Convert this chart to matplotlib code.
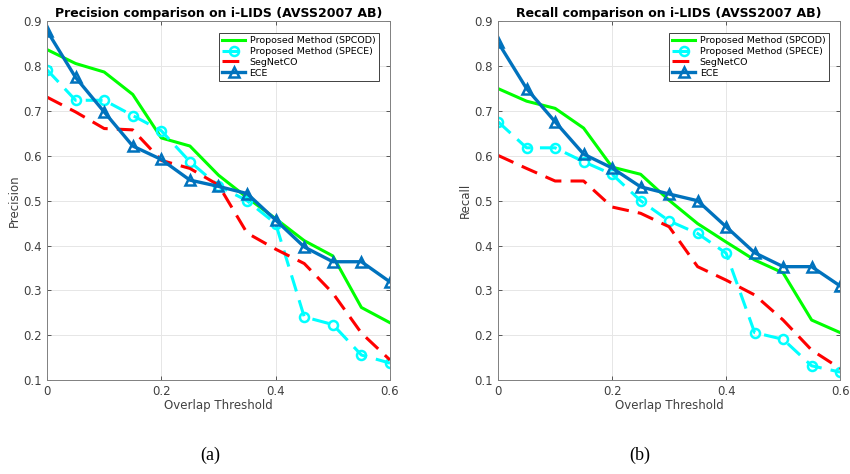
import matplotlib
matplotlib.use("Agg")
import matplotlib.pyplot as plt

# --- data ---
thresholds = [0, 0.05, 0.1, 0.15, 0.2, 0.25, 0.3, 0.35, 0.4, 0.45, 0.5, 0.55, 0.6]

prec_spcod = [0.837, 0.806, 0.787, 0.737, 0.640, 0.622, 0.557, 0.507, 0.460, 0.411, 0.377, 0.262, 0.228]
prec_spece = [0.792, 0.724, 0.724, 0.690, 0.656, 0.587, 0.533, 0.500, 0.449, 0.241, 0.224, 0.156, 0.138]
prec_segnet = [0.731, 0.698, 0.661, 0.658, 0.590, 0.572, 0.535, 0.428, 0.392, 0.360, 0.294, 0.205, 0.145]
prec_ece = [0.879, 0.775, 0.698, 0.622, 0.592, 0.546, 0.532, 0.516, 0.457, 0.397, 0.364, 0.364, 0.319]

rec_spcod = [0.750, 0.722, 0.706, 0.662, 0.575, 0.559, 0.501, 0.449, 0.408, 0.368, 0.339, 0.234, 0.206]
rec_spece = [0.676, 0.618, 0.618, 0.587, 0.559, 0.500, 0.455, 0.427, 0.383, 0.206, 0.191, 0.132, 0.118]
rec_segnet = [0.601, 0.572, 0.544, 0.544, 0.486, 0.472, 0.442, 0.353, 0.323, 0.290, 0.234, 0.167, 0.126]
rec_ece = [0.853, 0.750, 0.676, 0.604, 0.573, 0.531, 0.515, 0.500, 0.442, 0.384, 0.353, 0.353, 0.310]

labels = ["Proposed Method (SPCOD)", "Proposed Method (SPECE)", "SegNetCO", "ECE"]

GRAY = "#404040"


def draw_panel(ax, spcod, spece, segnet, ece, title, ylabel):
    ax.plot(thresholds, spcod, "-", color="#00ff00", lw=2.2, label=labels[0])
    ax.plot(thresholds, spece, "--", color="#00ffff", lw=2.2, marker="o", ms=6.5,
            mfc="none", mew=1.8, dashes=(5.5, 3), label=labels[1])
    ax.plot(thresholds, segnet, "--", color="#ff0000", lw=2.2, dashes=(5.5, 3), label=labels[2])
    ax.plot(thresholds, ece, "-", color="#0072bd", lw=2.4, marker="^", ms=7,
            mfc="none", mew=1.8, label=labels[3])

    ax.set_xlim(0, 0.6)
    ax.set_ylim(0.1, 0.9)
    ax.set_xticks([0, 0.2, 0.4, 0.6])
    ax.set_xticklabels(["0", "0.2", "0.4", "0.6"])
    ax.set_yticks([0.1, 0.2, 0.3, 0.4, 0.5, 0.6, 0.7, 0.8, 0.9])
    ax.set_title(title, fontsize=9, fontweight="bold", pad=3)
    ax.set_xlabel("Overlap Threshold", fontsize=8.5, color=GRAY, labelpad=1)
    ax.set_ylabel(ylabel, fontsize=8.5, color=GRAY, labelpad=2)
    ax.grid(True, color="#e6e6e6", lw=0.7)
    ax.set_axisbelow(True)
    ax.tick_params(direction="in", top=True, right=True, labelsize=8.5,
                   colors=GRAY, length=3, width=0.6)
    for s in ax.spines.values():
        s.set_color("#808080")
        s.set_linewidth(0.7)
    leg = ax.legend(loc="upper right", fontsize=6.8, fancybox=False, framealpha=1,
                    edgecolor="#404040", handlelength=2.4, handletextpad=0.5,
                    borderpad=0.35, labelspacing=0.2, borderaxespad=1.2)
    leg.get_frame().set_linewidth(0.7)


fig = plt.figure(figsize=(8.5, 4.74), dpi=100)
ax1 = fig.add_axes([0.0553, 0.198, 0.4035, 0.757])
ax2 = fig.add_axes([0.586, 0.198, 0.4024, 0.757])

draw_panel(ax1, prec_spcod, prec_spece, prec_segnet, prec_ece,
           "Precision comparison on i-LIDS (AVSS2007 AB)", "Precision")
draw_panel(ax2, rec_spcod, rec_spece, rec_segnet, rec_ece,
           "Recall comparison on i-LIDS (AVSS2007 AB)", "Recall")

fig.text(0.247, 0.03, "(a)", fontsize=13, family="Liberation Serif", ha="center")
fig.text(0.753, 0.03, "(b)", fontsize=13, family="Liberation Serif", ha="center")

fig.savefig("out.png", dpi=100)
